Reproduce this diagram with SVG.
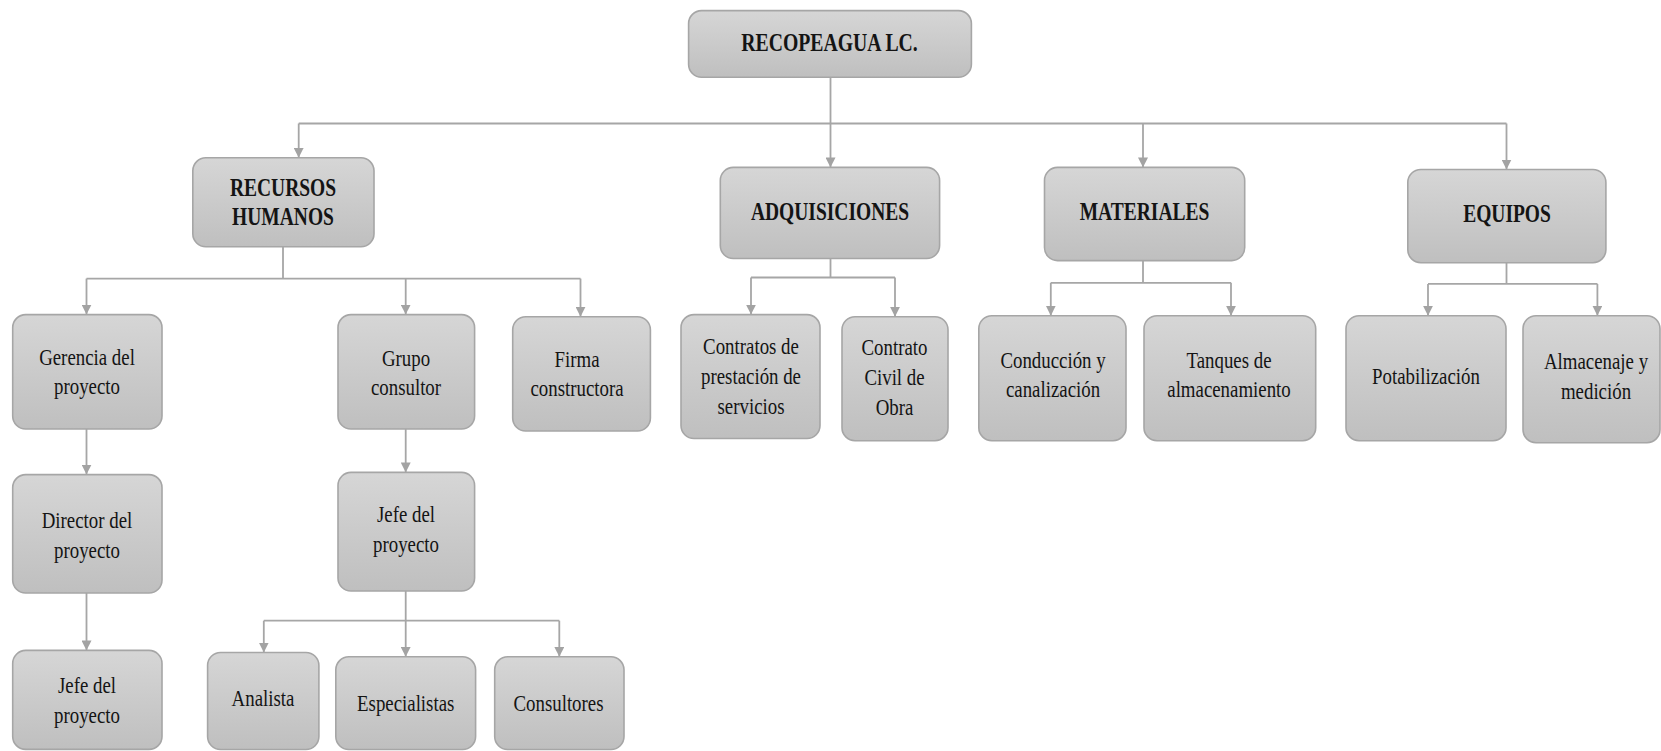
<svg xmlns="http://www.w3.org/2000/svg" width="1661" height="751" viewBox="0 0 1661 751">
  <defs>
    <linearGradient id="boxFill" x1="0" y1="0" x2="0" y2="1">
      <stop offset="0" stop-color="#d6d6d6"/>
      <stop offset="1" stop-color="#bfbfbf"/>
    </linearGradient>
    <marker id="arrow" viewBox="0 0 10 10" refX="10" refY="5" markerWidth="10" markerHeight="10" markerUnits="userSpaceOnUse" orient="auto">
      <path d="M0,0 L10,5 L0,10 Z" fill="#a3a3a3"/>
    </marker>
  </defs>
  <style>
    .box { fill: url(#boxFill); stroke: #a6a6a6; stroke-width: 1.6; }
    .lbl { font-family: "Liberation Serif", "Times New Roman", serif; font-size: 23px; fill: #141414; text-anchor: middle; }
    .hdr { font-family: "Liberation Serif", "Times New Roman", serif; font-size: 25px; font-weight: bold; fill: #141414; text-anchor: middle; }
    .ln { fill: none; stroke: #a6a6a6; stroke-width: 1.8; }
    .arr { fill: none; stroke: #a6a6a6; stroke-width: 1.8; marker-end: url(#arrow); }
  </style>
  <rect width="1661" height="751" fill="#ffffff"/>

  <!-- connectors -->
  <g id="connectors">
    <!-- root to departments -->
    <path class="ln" d="M830.5 77 V123.5 M298.7 123.5 H1506.5"/>
    <path class="arr" d="M298.7 123.5 V157.8"/>
    <path class="arr" d="M830.5 123.5 V167.4"/>
    <path class="arr" d="M1143 123.5 V167.4"/>
    <path class="arr" d="M1506.5 123.5 V169.5"/>
    <!-- recursos humanos -->
    <path class="ln" d="M283 247 V278.6 M86.5 278.6 H580.5"/>
    <path class="arr" d="M86.5 278.6 V314.6"/>
    <path class="arr" d="M405.7 278.6 V314.6"/>
    <path class="arr" d="M580.5 278.6 V316.7"/>
    <path class="arr" d="M86.5 429 V474.6"/>
    <path class="arr" d="M86.5 593 V650.4"/>
    <path class="arr" d="M405.7 429 V472.4"/>
    <path class="ln" d="M263.8 620.7 H559.3"/>
    <path class="arr" d="M405.7 591 V656.8"/>
    <path class="arr" d="M263.8 620.7 V652.5"/>
    <path class="arr" d="M559.3 620.7 V656.8"/>
    <!-- adquisiciones -->
    <path class="ln" d="M830.5 258.5 V277.5 M751 277.5 H895"/>
    <path class="arr" d="M751 277.5 V314.6"/>
    <path class="arr" d="M895 277.5 V316.7"/>
    <!-- materiales -->
    <path class="ln" d="M1143 260.6 V282.8 M1050.8 282.8 H1231"/>
    <path class="arr" d="M1050.8 282.8 V315.7"/>
    <path class="arr" d="M1231 282.8 V315.7"/>
    <!-- equipos -->
    <path class="ln" d="M1506.5 262.7 V283.9 M1428 283.9 H1597.4"/>
    <path class="arr" d="M1428 283.9 V315.7"/>
    <path class="arr" d="M1597.4 283.9 V315.7"/>
  </g>

  <!-- root -->
  <g id="n-recopeagua">
    <rect class="box" x="688.6" y="10.6" width="282.8" height="66.7" rx="13"/>
    <text class="hdr" transform="translate(829.5 0) scale(0.79 1)" x="0" y="51">RECOPEAGUA LC.</text>
  </g>

  <!-- departments -->
  <g id="n-recursos-humanos">
    <rect class="box" x="192.8" y="157.8" width="181.2" height="89" rx="13"/>
    <text class="hdr" transform="translate(283 0) scale(0.78 1)"><tspan x="0" y="196">RECURSOS</tspan><tspan x="0" y="225">HUMANOS</tspan></text>
  </g>
  <g id="n-adquisiciones">
    <rect class="box" x="720.3" y="167.4" width="219.3" height="91.1" rx="13"/>
    <text class="hdr" transform="translate(830 0) scale(0.78 1)" x="0" y="220">ADQUISICIONES</text>
  </g>
  <g id="n-materiales">
    <rect class="box" x="1044.5" y="167.4" width="200.2" height="93.2" rx="13"/>
    <text class="hdr" transform="translate(1144.5 0) scale(0.78 1)" x="0" y="220">MATERIALES</text>
  </g>
  <g id="n-equipos">
    <rect class="box" x="1407.8" y="169.5" width="198.1" height="93.2" rx="13"/>
    <text class="hdr" transform="translate(1507 0) scale(0.78 1)" x="0" y="222">EQUIPOS</text>
  </g>

  <!-- recursos humanos branch -->
  <g id="n-gerencia">
    <rect class="box" x="12.7" y="314.6" width="149.3" height="114.4" rx="13"/>
    <text class="lbl" transform="translate(87 0) scale(0.82 1)"><tspan x="0" y="365">Gerencia del</tspan><tspan x="0" y="394">proyecto</tspan></text>
  </g>
  <g id="n-director">
    <rect class="box" x="12.7" y="474.6" width="149.3" height="118.4" rx="13"/>
    <text class="lbl" transform="translate(87 0) scale(0.82 1)"><tspan x="0" y="528">Director del</tspan><tspan x="0" y="558">proyecto</tspan></text>
  </g>
  <g id="n-jefe-gerencia">
    <rect class="box" x="12.7" y="650.4" width="149.3" height="99" rx="13"/>
    <text class="lbl" transform="translate(87 0) scale(0.82 1)"><tspan x="0" y="693.5">Jefe del</tspan><tspan x="0" y="723">proyecto</tspan></text>
  </g>
  <g id="n-grupo-consultor">
    <rect class="box" x="338" y="314.6" width="136.6" height="114.4" rx="13"/>
    <text class="lbl" transform="translate(406 0) scale(0.82 1)"><tspan x="0" y="366">Grupo</tspan><tspan x="0" y="395">consultor</tspan></text>
  </g>
  <g id="n-firma">
    <rect class="box" x="512.7" y="316.7" width="137.7" height="114.3" rx="13"/>
    <text class="lbl" transform="translate(577 0) scale(0.82 1)"><tspan x="0" y="367.5">Firma</tspan><tspan x="0" y="396">constructora</tspan></text>
  </g>
  <g id="n-jefe-consultor">
    <rect class="box" x="338" y="472.4" width="136.6" height="118.6" rx="13"/>
    <text class="lbl" transform="translate(406 0) scale(0.82 1)"><tspan x="0" y="522">Jefe del</tspan><tspan x="0" y="552">proyecto</tspan></text>
  </g>
  <g id="n-analista">
    <rect class="box" x="207.6" y="652.5" width="111.3" height="97" rx="13"/>
    <text class="lbl" transform="translate(263 0) scale(0.82 1)" x="0" y="706">Analista</text>
  </g>
  <g id="n-especialistas">
    <rect class="box" x="335.8" y="656.8" width="139.8" height="92.7" rx="13"/>
    <text class="lbl" transform="translate(405.7 0) scale(0.82 1)" x="0" y="711">Especialistas</text>
  </g>
  <g id="n-consultores">
    <rect class="box" x="494.7" y="656.8" width="129.3" height="92.7" rx="13"/>
    <text class="lbl" transform="translate(558.5 0) scale(0.82 1)" x="0" y="711">Consultores</text>
  </g>

  <!-- adquisiciones branch -->
  <g id="n-contratos-servicios">
    <rect class="box" x="681" y="314.6" width="139" height="123.9" rx="13"/>
    <text class="lbl" transform="translate(751 0) scale(0.82 1)"><tspan x="0" y="354">Contratos de</tspan><tspan x="0" y="384">prestación de</tspan><tspan x="0" y="414">servicios</tspan></text>
  </g>
  <g id="n-contrato-civil">
    <rect class="box" x="842" y="316.7" width="106" height="124" rx="13"/>
    <text class="lbl" transform="translate(894.5 0) scale(0.82 1)"><tspan x="0" y="355">Contrato</tspan><tspan x="0" y="385">Civil de</tspan><tspan x="0" y="415">Obra</tspan></text>
  </g>

  <!-- materiales branch -->
  <g id="n-conduccion">
    <rect class="box" x="978.8" y="315.7" width="147.2" height="125" rx="13"/>
    <text class="lbl" transform="translate(1053 0) scale(0.82 1)"><tspan x="0" y="368.5">Conducción y</tspan><tspan x="0" y="397.5">canalización</tspan></text>
  </g>
  <g id="n-tanques">
    <rect class="box" x="1144" y="315.7" width="171.7" height="125" rx="13"/>
    <text class="lbl" transform="translate(1229 0) scale(0.82 1)"><tspan x="0" y="368.5">Tanques de</tspan><tspan x="0" y="397.5">almacenamiento</tspan></text>
  </g>

  <!-- equipos branch -->
  <g id="n-potabilizacion">
    <rect class="box" x="1346" y="315.7" width="160" height="125" rx="13"/>
    <text class="lbl" transform="translate(1426 0) scale(0.82 1)" x="0" y="384">Potabilización</text>
  </g>
  <g id="n-almacenaje">
    <rect class="box" x="1523" y="315.7" width="137" height="127" rx="13"/>
    <text class="lbl" transform="translate(1596 0) scale(0.82 1)"><tspan x="0" y="369.5">Almacenaje y</tspan><tspan x="0" y="399.5">medición</tspan></text>
  </g>
</svg>
